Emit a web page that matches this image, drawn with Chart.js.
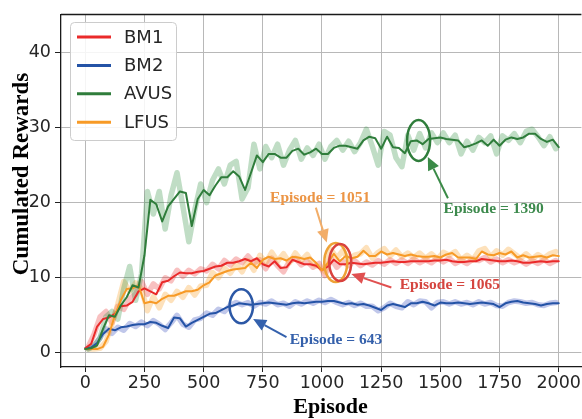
<!DOCTYPE html>
<html>
<head>
<meta charset="utf-8">
<script src="https://cdn.jsdelivr.net/npm/chart.js@4/dist/chart.umd.min.js"></script>
<style>
  html, body { margin: 0; padding: 0; background: #fff; overflow: hidden; }
  #wrap { width: 582px; height: 419px; }
</style>
</head>
<body>
<div id="wrap"><canvas id="c" width="582" height="419"></canvas></div>
<script>
// sampled every 25 episodes (smoothed curves)
const episodes = [0,25,50,75,100,125,150,175,200,225,250,275,300,325,350,375,400,425,450,475,
  500,525,550,575,600,625,650,675,700,725,750,775,800,825,850,875,900,925,950,975,
  1000,1025,1050,1075,1100,1125,1150,1175,1200,1225,1250,1275,1300,1325,1350,1375,1400,1425,1450,1475,
  1500,1525,1550,1575,1600,1625,1650,1675,1700,1725,1750,1775,1800,1825,1850,1875,1900,1925,1950,1975,2000];

const smoothBM1 = [0.6,1.2,3.5,4.5,4.7,5.2,6.2,6.3,6.8,8.2,8.6,8.2,7.8,9.4,9.6,10.2,10.7,10.6,10.6,10.8,
  10.9,11.2,11.5,11.6,12.0,12.0,12.2,12.5,12.2,12.6,11.8,11.5,12.2,11.3,11.4,12.4,12.1,11.8,11.8,11.6,
  11.0,11.5,12.4,11.8,11.8,12.0,11.9,11.8,11.9,12.0,12.0,12.1,12.2,12.1,12.1,12.2,12.2,12.2,12.2,12.3,
  12.3,12.4,12.2,12.1,12.1,12.2,12.2,12.5,12.4,12.3,12.2,12.2,12.3,12.2,12.0,12.0,12.1,12.2,12.1,12.2,12.2];

const smoothBM2 = [0.6,0.7,1.3,2.5,3.2,3.0,3.4,3.5,3.7,3.8,3.8,4.1,4.0,3.6,3.3,4.7,4.6,3.5,4.0,4.4,
  4.8,5.2,5.3,5.7,6.1,6.3,6.6,6.5,6.4,6.5,6.6,6.7,6.6,6.5,6.4,6.6,6.7,6.6,6.7,6.8,
  6.8,6.9,6.9,6.7,6.5,6.6,6.4,6.5,6.3,6.0,5.7,6.3,6.5,6.3,6.1,6.6,6.6,6.8,6.6,6.3,
  6.7,6.6,6.6,6.7,6.6,6.5,6.6,6.7,6.6,6.5,6.1,6.6,6.8,6.9,6.7,6.6,6.5,6.3,6.5,6.6,6.6];

const smoothAVUS = [0.5,0.6,1.0,3.2,5.0,4.8,6.3,7.4,9.0,8.7,13.0,20.4,19.8,17.5,19.5,20.5,21.5,21.3,16.9,20.5,
  21.7,21.0,22.3,23.4,23.4,24.2,23.5,21.7,24.0,26.3,25.4,26.5,26.5,26.0,26.0,26.9,27.2,26.4,26.7,27.2,
  26.5,26.5,27.3,27.6,27.6,27.4,27.2,28.3,28.8,28.6,27.2,28.8,27.4,27.3,26.6,28.2,28.3,27.8,28.5,28.6,
  28.7,28.5,28.4,28.3,27.4,27.6,27.9,28.3,27.6,28.4,27.6,28.4,28.7,28.5,28.7,29.2,29.2,28.5,28.1,28.4,27.4];

const smoothLFUS = [0.5,0.5,0.5,0.8,2.4,5.0,7.0,8.5,8.6,9.0,6.6,6.8,6.6,7.2,7.6,7.6,7.9,8.2,8.2,8.4,
  9.0,9.4,10.3,10.6,10.9,11.1,11.2,11.3,12.0,11.3,12.4,12.8,12.5,12.6,12.3,12.8,12.7,12.5,12.7,12.0,
  11.0,12.0,13.2,12.2,12.9,12.6,12.8,13.6,12.9,12.9,13.5,13.1,13.3,13.1,12.9,13.1,12.9,12.8,12.8,12.9,
  12.7,13.1,13.3,12.7,12.7,12.7,12.5,13.5,13.1,13.0,13.3,13.1,13.5,12.7,13.0,12.7,12.8,12.9,12.7,13.0,12.9];

// raw rewards (faint bands), read between the smoothed samples
const rawEpisodes = [12.5,37.5,62.5,87.5,112.5,137.5,162.5,187.5,212.5,237.5,262.5,287.5,312.5,337.5,362.5,387.5,412.5,437.5,462.5,487.5,
  512.5,537.5,562.5,587.5,612.5,637.5,662.5,687.5,712.5,737.5,762.5,787.5,812.5,837.5,862.5,887.5,912.5,937.5,962.5,987.5,
  1012.5,1037.5,1062.5,1087.5,1112.5,1137.5,1162.5,1187.5,1212.5,1237.5,1262.5,1287.5,1312.5,1337.5,1362.5,1387.5,1412.5,1437.5,1462.5,1487.5,
  1512.5,1537.5,1562.5,1587.5,1612.5,1637.5,1662.5,1687.5,1712.5,1737.5,1762.5,1787.5,1812.5,1837.5,1862.5,1887.5,1912.5,1937.5,1962.5,1987.5];

const rawBM1 = [0.8,2.5,4.8,5.5,4.0,6.2,5.8,7.2,7.8,9.5,7.8,9.2,8.5,10.0,9.6,11.0,10.2,11.0,10.5,11.2,
  10.9,11.8,11.2,12.3,11.7,12.5,12.0,12.9,12.0,12.4,11.2,12.6,11.6,10.8,12.2,12.6,11.7,12.2,11.4,11.9,
  10.3,12.6,11.4,12.2,11.6,12.3,11.6,12.1,11.7,12.3,11.8,12.4,11.9,12.4,11.9,12.5,12.0,12.4,12.0,12.6,
  12.1,12.6,11.9,12.3,11.9,12.5,12.3,12.7,12.1,12.5,12.0,12.4,12.0,12.3,11.8,12.3,11.9,12.4,11.9,12.3];

const rawBM2 = [0.6,0.9,2.0,3.2,2.6,3.4,3.0,3.9,3.5,4.1,3.6,4.3,3.8,3.1,4.0,5.0,3.8,3.4,4.4,4.6,
  5.3,5.0,5.8,5.5,6.3,6.7,6.4,6.7,6.2,6.7,6.5,6.9,6.4,6.6,6.2,6.8,6.5,6.9,6.6,7.0,
  6.7,7.1,6.7,6.4,6.7,6.3,6.6,6.2,6.2,5.6,6.0,6.6,6.2,6.0,6.8,6.4,6.9,6.8,6.0,6.7,
  6.8,6.5,6.8,6.5,6.7,6.4,6.8,6.5,6.7,6.3,6.2,6.7,6.9,6.8,6.6,6.7,6.4,6.3,6.6,6.7];

const rawAVUS = [0.5,0.9,2.0,4.8,5.5,4.5,8.5,11.5,7.0,10.5,21.5,18.5,21.5,16.5,21.0,24.0,19.5,14.8,19.0,22.5,
  20.0,23.0,24.5,22.5,25.0,25.5,20.5,22.0,27.8,24.5,27.5,26.0,27.8,25.0,27.0,28.3,25.8,27.3,26.3,27.8,
  25.8,27.5,28.3,27.0,28.2,26.8,28.0,29.8,27.5,25.0,29.5,29.0,26.0,24.8,29.0,27.0,29.2,27.3,29.3,28.0,
  29.3,28.0,29.0,26.5,28.2,27.0,28.7,28.0,28.9,26.5,28.9,28.3,29.2,28.0,29.5,29.8,28.8,27.6,28.8,27.2];

const rawLFUS = [0.5,0.5,0.6,1.5,3.8,6.5,9.5,8.2,9.3,8.5,5.6,7.5,6.0,7.8,7.0,8.2,7.4,8.7,7.7,8.9,
  9.0,10.7,10.0,11.3,10.6,11.8,10.8,12.3,11.0,13.0,12.0,13.4,12.2,13.2,12.0,13.3,12.3,13.1,11.8,11.5,
  10.8,13.8,12.6,13.6,12.4,13.0,13.2,14.0,12.6,13.4,13.9,12.9,13.7,12.8,13.3,12.7,13.3,12.6,13.2,12.5,
  13.4,13.0,13.5,12.4,13.0,12.4,13.6,13.9,12.8,13.6,13.0,13.8,13.2,12.6,13.2,12.5,13.1,12.6,13.2,13.5];

const seriesNames = ['BM1', 'BM2', 'AVUS', 'LFUS'];
const xTicks = [0, 250, 500, 750, 1000, 1250, 1500, 1750, 2000];
const yTicks = [0, 10, 20, 30, 40];

// highlighted episodes: [episode, reward] positions
const markLabels = ['Episode = 1051', 'Episode = 1065', 'Episode = 1390', 'Episode = 643'];
const markCircles = [[1058, 12.03], [1077, 12.03], [1408, 28.3], [659, 6.2]];
const markArrowFrom = [[974, 19.35], [1293, 8.7], [1532, 20.6], [850, 2.1]];
const markArrowTo = [[1020, 14.7], [1124, 10.5], [1447, 26.1], [709, 4.5]];
const markText = [[992, 20.15], [1540, 8.5], [1725, 18.6], [1059, 1.24]];

const lineColors = { BM1: '#ea2a2a', BM2: '#2453a6', AVUS: '#2f7d3b', LFUS: '#f79a26' };
const bandColors = {
  BM1: 'rgba(234,60,60,0.32)', BM2: 'rgba(60,80,190,0.32)',
  AVUS: 'rgba(60,150,75,0.32)', LFUS: 'rgba(250,170,60,0.35)'
};
const drawOrder = { AVUS: 0, LFUS: 1, BM1: 2, BM2: 3 };
const markStyle = [
  { ring: '#eea236', arrow: '#f2ad68', text: '#ec9545', rx: 11.5, ry: 19.5 },
  { ring: '#d9423d', arrow: '#e05050', text: '#d5453f', rx: 11, ry: 18.5 },
  { ring: '#2f7d3b', arrow: '#3a8a47', text: '#3d8a4d', rx: 11.5, ry: 20.5 },
  { ring: '#2c58a6', arrow: '#3461ad', text: '#3460ab', rx: 11.7, ry: 17 }
];

const smoothBy = { BM1: smoothBM1, BM2: smoothBM2, AVUS: smoothAVUS, LFUS: smoothLFUS };
const rawBy = { BM1: rawBM1, BM2: rawBM2, AVUS: rawAVUS, LFUS: rawLFUS };
const pts = (xs, ys) => xs.map((x, i) => ({ x, y: ys[i] }));

const datasets = [];
seriesNames.forEach(name => {
  datasets.push({
    label: name,
    data: pts(episodes, smoothBy[name]),
    borderColor: lineColors[name],
    borderWidth: 2,
    order: drawOrder[name]
  });
});
seriesNames.forEach(name => {
  datasets.push({
    label: name + ' raw',
    data: pts(rawEpisodes, rawBy[name]),
    borderColor: bandColors[name],
    borderWidth: 5.5,
    order: 10 + drawOrder[name]
  });
});

const decorations = {
  id: 'decorations',
  afterDatasetsDraw(chart) {
    const { ctx, chartArea: a, scales: { x, y } } = chart;
    ctx.save();
    // top spine
    ctx.strokeStyle = '#1a1a1a';
    ctx.lineWidth = 1.3;
    ctx.beginPath();
    ctx.moveTo(a.left, a.top);
    ctx.lineTo(a.right, a.top);
    ctx.stroke();

    markLabels.forEach((txt, i) => {
      const st = markStyle[i];
      // ring
      ctx.strokeStyle = st.ring;
      ctx.lineWidth = 2.5;
      ctx.beginPath();
      ctx.ellipse(x.getPixelForValue(markCircles[i][0]), y.getPixelForValue(markCircles[i][1]),
        st.rx, st.ry, 0, 0, Math.PI * 2);
      ctx.stroke();
      // arrow
      const x0 = x.getPixelForValue(markArrowFrom[i][0]), y0 = y.getPixelForValue(markArrowFrom[i][1]);
      const x1 = x.getPixelForValue(markArrowTo[i][0]), y1 = y.getPixelForValue(markArrowTo[i][1]);
      const ang = Math.atan2(y1 - y0, x1 - x0);
      const hl = 13, hw = 6;
      const bx = x1 - hl * Math.cos(ang), by = y1 - hl * Math.sin(ang);
      ctx.strokeStyle = st.arrow;
      ctx.fillStyle = st.arrow;
      ctx.lineWidth = 2;
      ctx.beginPath();
      ctx.moveTo(x0, y0);
      ctx.lineTo(bx, by);
      ctx.stroke();
      ctx.beginPath();
      ctx.moveTo(x1, y1);
      ctx.lineTo(bx + hw * Math.sin(ang), by - hw * Math.cos(ang));
      ctx.lineTo(bx - hw * Math.sin(ang), by + hw * Math.cos(ang));
      ctx.closePath();
      ctx.fill();
      // label
      ctx.fillStyle = st.text;
      ctx.font = 'bold 15.5px "Liberation Serif", "Times New Roman", serif';
      ctx.textAlign = 'center';
      ctx.textBaseline = 'alphabetic';
      ctx.fillText(txt, x.getPixelForValue(markText[i][0]), y.getPixelForValue(markText[i][1]));
    });
    ctx.restore();
  },
  afterDraw(chart) {
    const { ctx } = chart;
    ctx.save();
    // axis titles
    ctx.fillStyle = '#000';
    ctx.font = 'bold 22px "Liberation Serif", "Times New Roman", serif';
    ctx.textAlign = 'center';
    ctx.textBaseline = 'alphabetic';
    ctx.fillText('Episode', 330.5, 413);
    ctx.translate(27.5, 174);
    ctx.rotate(-Math.PI / 2);
    ctx.font = 'bold 23px "Liberation Serif", "Times New Roman", serif';
    ctx.fillText('Cumulated Rewards', 0, 0);
    ctx.restore();

    // legend box
    ctx.save();
    const bx = 70.5, by = 22.5, bw = 106, bh = 118, r = 4;
    ctx.fillStyle = 'rgba(255,255,255,0.85)';
    ctx.strokeStyle = '#cccccc';
    ctx.lineWidth = 1;
    ctx.beginPath();
    ctx.roundRect(bx, by, bw, bh, r);
    ctx.fill();
    ctx.stroke();
    ctx.font = '18px "DejaVu Sans", sans-serif';
    ctx.textBaseline = 'middle';
    ctx.textAlign = 'left';
    seriesNames.forEach((name, i) => {
      const yy = 37 + i * 28.4;
      ctx.strokeStyle = lineColors[name];
      ctx.lineWidth = 3;
      ctx.beginPath();
      ctx.moveTo(77, yy);
      ctx.lineTo(111, yy);
      ctx.stroke();
      ctx.fillStyle = '#262626';
      ctx.fillText(name, 124, yy + 1);
    });
    ctx.restore();
  }
};

new Chart(document.getElementById('c'), {
  type: 'line',
  data: { datasets },
  options: {
    responsive: false,
    animation: false,
    devicePixelRatio: 1,
    layout: { padding: { top: 11, left: 0, right: 0, bottom: 0 } },
    elements: {
      point: { radius: 0 },
      line: { tension: 0, borderJoinStyle: 'round', borderCapStyle: 'round' }
    },
    plugins: { legend: { display: false }, tooltip: { enabled: false } },
    scales: {
      x: {
        type: 'linear',
        min: -102.5,
        max: 2095.8,
        afterBuildTicks: s => { s.ticks = xTicks.map(v => ({ value: v })); },
        afterFit: s => { s.height = 52; },
        grid: { color: '#b8b8b8', lineWidth: 1, tickLength: 5, tickColor: '#222' },
        border: { display: true, color: '#1a1a1a', width: 1.3 },
        ticks: {
          font: { family: '"DejaVu Sans", sans-serif', size: 17.5 },
          color: '#262626', padding: 1, maxRotation: 0,
          callback: v => String(v)
        }
      },
      y: {
        type: 'linear',
        min: -1.89,
        max: 45.08,
        afterBuildTicks: s => { s.ticks = yTicks.map(v => ({ value: v })); },
        afterFit: s => { s.width = 61; },
        grid: { color: '#b8b8b8', lineWidth: 1, tickLength: 6, tickColor: '#222' },
        border: { display: true, color: '#1a1a1a', width: 1.3 },
        ticks: {
          font: { family: '"DejaVu Sans", sans-serif', size: 17.5 },
          color: '#262626', padding: 4,
          callback: v => String(v)
        }
      }
    }
  },
  plugins: [decorations]
});
</script>
</body>
</html>
